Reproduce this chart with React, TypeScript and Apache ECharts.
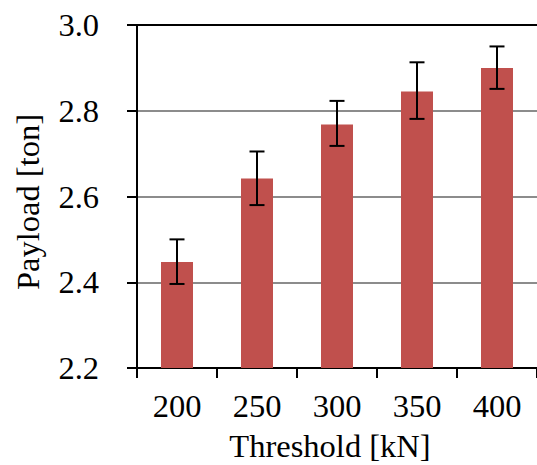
import React, { useEffect, useRef } from "react";
import * as echarts from "echarts";

const categories = ["200", "250", "300", "350", "400"];
const payload = [2.447, 2.642, 2.768, 2.845, 2.9];
const errLow = [2.396, 2.58, 2.718, 2.781, 2.851];
const errHigh = [2.5, 2.705, 2.823, 2.913, 2.95];
const yTicks = { min: 2.2, max: 3.0, interval: 0.2 };

const FONT = "'Liberation Serif', 'Times New Roman', serif";
const FS = 32.5;

export default function App() {
  const ref = useRef<HTMLDivElement>(null);
  useEffect(() => {
    if (!ref.current) return;
    const chart = echarts.init(ref.current, null, { renderer: "svg" });
    const errData = categories.map((_, i) => [i, errLow[i], errHigh[i]]);
    chart.setOption({
      animation: false,
      grid: { left: 137, top: 25, bottom: 97, right: -8.5, containLabel: false },
      xAxis: [
        {
          type: "category",
          data: categories,
          axisLine: { show: true, lineStyle: { color: "#000", width: 2 } },
          axisTick: { show: true, length: 10, lineStyle: { color: "#000", width: 2 } },
          axisLabel: { color: "#000", fontFamily: FONT, fontSize: FS, margin: 21 },
          splitLine: { show: false },
        },
        {
          type: "category",
          data: categories,
          position: "top",
          axisLine: { show: true, lineStyle: { color: "#000", width: 2 } },
          axisTick: { show: false },
          axisLabel: { show: false },
          splitLine: { show: false },
        },
      ],
      yAxis: {
        type: "value",
        min: yTicks.min,
        max: yTicks.max,
        interval: yTicks.interval,
        axisLine: { show: true, lineStyle: { color: "#000", width: 2 } },
        axisTick: { show: true, length: 10, lineStyle: { color: "#000", width: 2 } },
        axisLabel: {
          color: "#000",
          fontFamily: FONT,
          fontSize: FS,
          margin: 38,
          formatter: (v: number) => v.toFixed(1),
        },
        splitLine: { show: true, lineStyle: { color: "#8c8c8c", width: 2 } },
      },
      graphic: [
        {
          type: "text",
          x: 330,
          y: 446,
          style: {
            text: "Threshold [kN]",
            fontFamily: FONT,
            fontSize: FS,
            fill: "#000",
            align: "center",
            verticalAlign: "middle",
          },
        },
        {
          type: "text",
          x: 28,
          y: 202,
          rotation: Math.PI / 2,
          style: {
            text: "Payload [ton]",
            fontFamily: FONT,
            fontSize: FS,
            fill: "#000",
            align: "center",
            verticalAlign: "middle",
          },
        },
      ],
      series: [
        {
          type: "bar",
          data: payload,
          barWidth: "40%",
          itemStyle: { color: "#C0504D" },
          z: 2,
        },
        {
          type: "custom",
          data: errData,
          encode: { x: 0, y: [1, 2] },
          z: 3,
          renderItem: (params: any, api: any) => {
            const x = api.value(0);
            const lo = api.coord([x, api.value(1)]);
            const hi = api.coord([x, api.value(2)]);
            const hw = 7.5;
            const style = { stroke: "#000", lineWidth: 2 };
            return {
              type: "group",
              children: [
                { type: "line", shape: { x1: lo[0], y1: hi[1], x2: lo[0], y2: lo[1] }, style },
                { type: "line", shape: { x1: lo[0] - hw, y1: hi[1], x2: lo[0] + hw, y2: hi[1] }, style },
                { type: "line", shape: { x1: lo[0] - hw, y1: lo[1], x2: lo[0] + hw, y2: lo[1] }, style },
              ],
            };
          },
        },
      ],
    });
    return () => chart.dispose();
  }, []);
  return (
    <div
      ref={ref}
      style={{ position: "fixed", left: 0, top: 0, width: 537, height: 465, background: "#fff" }}
    />
  );
}
